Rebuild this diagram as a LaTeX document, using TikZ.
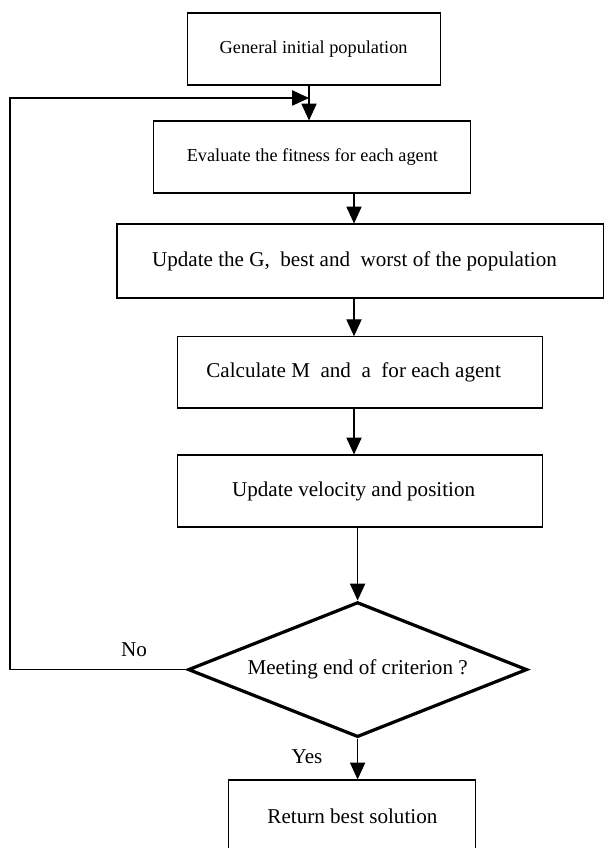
\documentclass[tikz,border=0pt]{standalone}
\usepackage{fontspec}
\setmainfont{Liberation Serif}
\usepackage{tikz}
\usetikzlibrary{arrows.meta, shapes.geometric, calc, positioning}

\begin{document}
\begin{tikzpicture}[
    font=\fontsize{15}{18}\selectfont,
    small/.style={font=\fontsize{13}{15}\selectfont},
    box/.style={draw, line width=0.8pt, minimum height=1.8cm, inner sep=0pt},
    decision/.style={draw, diamond, aspect=2.51, line width=2.3pt, minimum width=8.475cm, minimum height=3.375cm, inner sep=0pt},
    arr/.style={-{Triangle[length=0.42cm, width=0.38cm]}, line width=0.8pt}
]
\useasboundingbox (0, 0) rectangle (15.075, -21.2);
\node[box, small, minimum width=6.325cm] (init) at (7.84, -1.225) {General initial population};
\node[box, small, minimum width=7.925cm] (fit) at (7.81, -3.925) {Evaluate the fitness for each agent};
\node[box, minimum width=12.175cm, minimum height=1.85cm] (update) at (9.0125, -6.525) {Update the G,~ best and~ worst of the population\hspace*{0.3cm}};
\node[box, minimum width=9.125cm, minimum height=1.78cm] (mass) at (8.99, -9.31) {Calculate M~ and~ a~ for each agent\hspace*{0.3cm}};
\node[box, minimum width=9.125cm] (velo) at (8.99, -12.275) {Update velocity and position\hspace*{0.3cm}};
\node[decision] (check) at (8.94, -16.74) {Meeting end of criterion ?};
\node[box, minimum width=6.175cm] (result) at (8.81, -20.4) {Return best solution};
\node (no) at (3.35, -16.25) {No};
\node (yes) at (7.675, -18.925) {Yes};
\coordinate (loop) at (7.725, -2.45);
\coordinate (corner) at (0.25, -2.45);
\coordinate (spine) at (8.85, 0);
\draw[arr] (init.south -| loop) -- (fit.north -| loop);
\draw[arr] (fit.south -| spine) -- (update.north -| spine);
\draw[arr] (update.south -| spine) -- (mass.north -| spine);
\draw[arr] (mass.south -| spine) -- (velo.north -| spine);
\draw[arr] (velo.south -| check) -- (check.north);
\draw[arr] (check.south) -- (check.south |- result.north);
\draw[arr] (check.west) -| (corner) -- (loop);
\end{tikzpicture}
\end{document}
